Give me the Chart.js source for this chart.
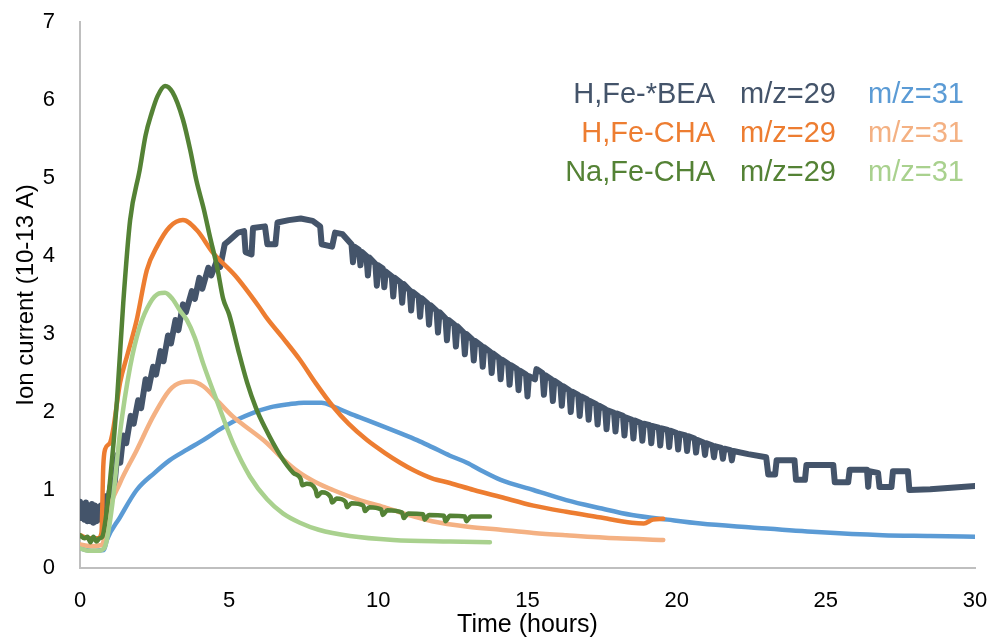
<!DOCTYPE html>
<html>
<head>
<meta charset="utf-8">
<script src="https://cdn.jsdelivr.net/npm/chart.js@4"></script>
<style>
	body { margin: 0; background: #fff; }
	#wrap { width: 993px; height: 640px; }
</style>
</head>
<body>
<div id="wrap"><canvas id="myChart" width="993" height="640"></canvas></div>
<script>
// [time (hours), ion current]
const beaM29 = [
	[0,0.85],[0.05,0.64],[0.1,0.82],[0.15,0.62],[0.2,0.84],[0.25,0.6],[0.3,0.8],[0.35,0.6],[0.4,0.82],
	[0.45,0.58],[0.5,0.8],[0.55,0.6],[0.6,0.78],[0.65,0.62],[0.7,0.8],[0.75,0.66],[0.8,0.78],
	[0.85,0.92],[0.95,0.88],[1.05,1.1],[1.15,1.05],[1.25,1.45],[1.35,1.35],[1.45,1.7],[1.55,1.6],
	[1.7,1.95],[1.8,1.85],[1.95,2.15],[2.05,2.05],[2.2,2.42],[2.3,2.3],[2.45,2.58],[2.55,2.48],
	[2.7,2.78],[2.8,2.65],[2.95,2.98],[3.05,2.88],[3.2,3.18],[3.3,3.05],[3.45,3.38],[3.55,3.28],
	[3.75,3.55],[3.85,3.45],[4.0,3.72],[4.1,3.58],[4.3,3.85],[4.4,3.75],[4.6,3.95],[4.7,3.86],
	[4.85,4.15],[5.0,4.2],[5.3,4.3],[5.5,4.32],[5.55,4.05],[5.75,4.02],[5.8,4.36],[6.2,4.38],
	[6.28,4.15],[6.55,4.15],[6.62,4.43],[7.0,4.46],[7.4,4.48],[7.8,4.45],[8.05,4.38],[8.1,4.15],
	[8.45,4.12],[8.55,4.3],[8.8,4.28],[9.1,4.15],[9.15,3.92],[9.2,4.12],[9.35,4.08],[9.4,3.88],
	[9.45,4.05],[9.6,4.0],[9.65,3.75],[9.7,3.98],[9.9,3.9],[9.95,3.62],[10.0,3.88],[10.15,3.84],
	[10.2,3.6],[10.25,3.8],[10.45,3.74],[10.5,3.48],[10.55,3.72],[10.75,3.66],[10.8,3.4],[10.85,3.64],
	[11.05,3.56],[11.1,3.3],[11.15,3.54],[11.35,3.48],[11.4,3.22],[11.45,3.46],[11.65,3.39],[11.7,3.12],
	[11.75,3.37],[11.95,3.3],[12.0,3.02],[12.05,3.28],[12.25,3.2],[12.3,2.92],[12.35,3.18],[12.55,3.12],
	[12.6,2.84],[12.65,3.1],[12.85,3.02],[12.9,2.74],[12.95,3.0],[13.15,2.93],[13.2,2.66],[13.25,2.91],
	[13.45,2.85],[13.5,2.58],[13.55,2.83],[13.75,2.77],[13.8,2.5],[13.85,2.75],[14.05,2.69],[14.1,2.42],
	[14.15,2.67],[14.35,2.62],[14.4,2.35],[14.45,2.6],[14.65,2.55],[14.7,2.28],[14.75,2.53],[14.95,2.48],
	[15.0,2.2],[15.05,2.46],[15.25,2.42],[15.3,2.55],[15.5,2.5],[15.55,2.22],[15.6,2.47],[15.8,2.42],
	[15.85,2.14],[15.9,2.4],[16.1,2.35],[16.15,2.08],[16.2,2.33],[16.4,2.28],[16.45,2.0],[16.5,2.26],
	[16.7,2.22],[16.75,1.95],[16.8,2.2],[17.0,2.16],[17.05,1.9],[17.1,2.14],[17.3,2.1],[17.35,1.84],
	[17.4,2.08],[17.6,2.04],[17.65,1.78],[17.7,2.02],[17.9,1.99],[17.95,1.75],[18.0,1.98],[18.2,1.95],
	[18.25,1.7],[18.3,1.93],[18.5,1.9],[18.55,1.66],[18.6,1.89],[18.8,1.86],[18.85,1.63],[18.9,1.85],
	[19.1,1.83],[19.15,1.6],[19.2,1.82],[19.4,1.8],[19.45,1.57],[19.5,1.79],[19.7,1.77],[19.75,1.55],
	[19.8,1.76],[20.0,1.73],[20.05,1.52],[20.1,1.72],[20.3,1.7],[20.35,1.5],[20.4,1.69],[20.6,1.66],
	[20.65,1.48],[20.7,1.64],[20.9,1.61],[20.95,1.45],[21.0,1.6],[21.2,1.57],[21.25,1.42],[21.3,1.56],
	[21.5,1.54],[21.55,1.4],[21.6,1.53],[21.8,1.51],[21.85,1.38],[21.9,1.5],[22.4,1.46],[23.0,1.42],
	[23.07,1.2],[23.3,1.2],[23.35,1.38],[23.95,1.38],[24.0,1.13],[24.3,1.13],[24.35,1.32],[25.25,1.32],
	[25.3,1.1],[25.75,1.1],[25.8,1.26],[26.38,1.26],[26.42,1.04],[26.46,1.24],[26.75,1.22],[26.8,1.04],
	[27.2,1.04],[27.25,1.24],[27.75,1.24],[27.8,1.0],[28.5,1.01],[29.2,1.03],[30,1.05]
];
const beaM31 = [
	[0,0.25],[0.4,0.22],[0.8,0.23],[0.9,0.36],[1.34,0.65],[1.9,1.0],[2.5,1.22],[3.0,1.38],[3.6,1.52],
	[4.13,1.64],[4.7,1.78],[5.26,1.9],[5.8,1.99],[6.37,2.06],[7.0,2.1],[7.5,2.12],[8.1,2.12],[8.5,2.07],
	[9.05,1.98],[9.6,1.9],[10.2,1.81],[10.73,1.73],[11.3,1.64],[11.8,1.55],[12.4,1.44],[12.97,1.35],
	[13.5,1.24],[14.1,1.13],[15.2,1.0],[16.3,0.87],[17.4,0.77],[18.5,0.68],[19.7,0.62],[20.8,0.57],
	[22.5,0.52],[24.7,0.46],[26.9,0.42],[28.5,0.41],[30,0.4]
];
const chaM29 = [
	[0,0.42],[0.3,0.38],[0.6,0.38],[0.72,0.45],[0.78,1.3],[0.84,1.52],[1.0,1.6],[1.1,1.75],
	[1.34,2.37],[1.6,2.75],[1.9,3.18],[2.24,3.82],[2.58,4.12],[3.0,4.37],[3.45,4.46],[3.92,4.33],
	[4.46,4.04],[5.2,3.75],[6.0,3.35],[6.27,3.2],[6.8,2.95],[7.37,2.67],[7.9,2.37],[8.48,2.07],
	[9.0,1.85],[9.62,1.64],[10.2,1.48],[10.73,1.35],[11.2,1.25],[11.8,1.15],[12.4,1.09],[13.2,1.0],
	[14.1,0.91],[15.2,0.8],[16.3,0.72],[17.4,0.65],[18.5,0.58],[18.9,0.57],[19.2,0.62],[19.55,0.63]
];
const chaM31 = [
	[0,0.3],[0.4,0.28],[0.75,0.3],[0.9,0.65],[1.34,1.09],[1.9,1.51],[2.45,1.94],[3.0,2.28],
	[3.4,2.38],[3.7,2.39],[4.13,2.33],[4.69,2.11],[5.13,1.94],[5.46,1.84],[6.27,1.6],[6.8,1.4],
	[7.37,1.22],[7.9,1.1],[8.48,1.0],[9.3,0.88],[10.2,0.78],[11.0,0.68],[11.8,0.6],[13.0,0.53],
	[14.1,0.49],[15.2,0.45],[16.3,0.42],[18.0,0.38],[19.55,0.36]
];
const naM29 = [
	[0,0.42],[0.15,0.38],[0.25,0.4],[0.35,0.33],[0.45,0.4],[0.55,0.34],[0.65,0.38],[0.75,0.4],
	[0.85,0.6],[1.0,1.09],[1.24,2.15],[1.45,3.4],[1.68,4.46],[2.0,5.1],[2.2,5.55],[2.4,5.83],
	[2.6,6.05],[2.85,6.18],[3.1,6.1],[3.45,5.75],[3.7,5.35],[3.9,4.97],[4.15,4.6],[4.36,4.24],
	[4.6,3.85],[4.8,3.45],[5.0,3.25],[5.3,2.8],[5.6,2.38],[5.9,2.05],[6.2,1.8],[6.7,1.45],
	[7.15,1.22],[7.4,1.14],[7.45,1.06],[7.6,1.08],[7.9,1.0],[7.95,0.92],[8.1,0.97],[8.4,0.91],
	[8.45,0.84],[8.6,0.89],[8.9,0.85],[8.95,0.78],[9.1,0.83],[9.5,0.8],[9.55,0.73],[9.7,0.78],
	[10.1,0.75],[10.15,0.68],[10.3,0.74],[10.8,0.71],[10.85,0.64],[11.0,0.7],[11.5,0.69],
	[11.55,0.62],[11.7,0.68],[12.2,0.67],[12.25,0.6],[12.4,0.67],[12.9,0.66],[12.95,0.6],
	[13.1,0.66],[13.74,0.66]
];
const naM31 = [
	[0,0.25],[0.3,0.22],[0.6,0.22],[0.8,0.25],[0.9,0.36],[1.1,0.87],[1.34,1.73],[1.68,2.58],
	[2.0,3.09],[2.35,3.4],[2.65,3.52],[2.85,3.53],[3.1,3.45],[3.35,3.3],[3.58,3.18],[3.85,2.95],
	[4.13,2.62],[4.58,2.15],[5.13,1.6],[5.7,1.17],[6.27,0.88],[6.8,0.7],[7.37,0.58],[8.0,0.49],
	[9.05,0.41],[10.5,0.36],[12.4,0.34],[13.74,0.33]
];

const sampleNames = ["H,Fe-*BEA", "H,Fe-CHA", "Na,Fe-CHA"];
const massNames = ["m/z=29", "m/z=31"];
const xTicks = [0, 5, 10, 15, 20, 25, 30];
const yTicks = [0, 1, 2, 3, 4, 5, 6, 7];

const COLORS = {
	bea29: "#44546A",
	bea31: "#5B9BD5",
	cha29: "#ED7D31",
	cha31: "#F4B183",
	na29: "#548235",
	na31: "#A9D18E",
};
const FONT = "'Liberation Sans', Arial, Helvetica, sans-serif";

function toPoints(arr) {
	return arr.map((p) => ({ x: p[0], y: p[1] }));
}

function makeSet(label, arr, color, width, order, smooth) {
	return {
		label: label,
		data: toPoints(arr),
		borderColor: color,
		backgroundColor: color,
		borderWidth: width,
		pointRadius: 0,
		tension: smooth ? 0.4 : 0,
		cubicInterpolationMode: smooth ? "monotone" : "default",
		showLine: true,
		fill: false,
		order: order,
		borderJoinStyle: "round",
		borderCapStyle: "round",
	};
}

// legend drawn as three rows of coloured text, like the original
const textLegend = {
	id: "textLegend",
	afterDraw(chart) {
		const ctx = chart.ctx;
		const rowColors = [
			[COLORS.bea29, COLORS.bea29, COLORS.bea31],
			[COLORS.cha29, COLORS.cha29, COLORS.cha31],
			[COLORS.na29, COLORS.na29, COLORS.na31],
		];
		const baselines = [103, 142, 181];
		ctx.save();
		ctx.font = "29px " + FONT;
		ctx.textBaseline = "alphabetic";
		sampleNames.forEach((name, i) => {
			ctx.fillStyle = rowColors[i][0];
			ctx.textAlign = "right";
			ctx.fillText(name, 715, baselines[i]);
			ctx.textAlign = "left";
			ctx.fillStyle = rowColors[i][1];
			ctx.fillText(massNames[0], 740, baselines[i]);
			ctx.fillStyle = rowColors[i][2];
			ctx.fillText(massNames[1], 868, baselines[i]);
		});
		ctx.restore();
	},
};

function drawChart() {
	const ctx = document.getElementById("myChart");
	new Chart(ctx, {
		type: "scatter",
		data: {
			datasets: [
				makeSet("H,Fe-*BEA m/z=29", beaM29, COLORS.bea29, 6, 6, false),
				makeSet("H,Fe-*BEA m/z=31", beaM31, COLORS.bea31, 4.5, 5, true),
				makeSet("H,Fe-CHA m/z=29", chaM29, COLORS.cha29, 4.5, 4, true),
				makeSet("H,Fe-CHA m/z=31", chaM31, COLORS.cha31, 4.5, 3, true),
				makeSet("Na,Fe-CHA m/z=29", naM29, COLORS.na29, 4.5, 2, true),
				makeSet("Na,Fe-CHA m/z=31", naM31, COLORS.na31, 4.5, 1, true),
			],
		},
		options: {
			responsive: false,
			animation: false,
			layout: { padding: { top: 22, right: 18, left: 0, bottom: 0 } },
			plugins: {
				legend: { display: false },
				tooltip: { enabled: false },
			},
			scales: {
				x: {
					type: "linear",
					min: 0,
					max: 30,
					afterBuildTicks: (s) => { s.ticks = xTicks.map((v) => ({ value: v })); },
					grid: { display: false },
					border: { display: true, color: "#BFBFBF", width: 2 },
					ticks: { color: "#000", padding: 12, font: { size: 22, family: FONT } },
					title: {
						display: true,
						text: "Time (hours)",
						color: "#000",
						padding: { top: 0, bottom: 0 },
						font: { size: 25, family: FONT },
					},
					afterFit: (s) => {
						s.height = 72;
						s.paddingLeft = 0;
						s.paddingRight = 0;
					},
				},
				y: {
					min: 0,
					max: 7,
					afterBuildTicks: (s) => { s.ticks = yTicks.map((v) => ({ value: v })); },
					grid: { display: false },
					border: { display: true, color: "#BFBFBF", width: 2 },
					ticks: { color: "#000", padding: 17, font: { size: 22, family: FONT } },
					title: {
						display: true,
						text: "Ion current (10-13 A)",
						color: "#000",
						padding: { top: 12, bottom: 0 },
						font: { size: 24, family: FONT },
					},
					afterFit: (s) => {
						s.width = 80;
						s.paddingTop = 0;
						s.paddingBottom = 0;
					},
				},
			},
		},
		plugins: [textLegend],
	});
}

drawChart();
</script>
</body>
</html>
